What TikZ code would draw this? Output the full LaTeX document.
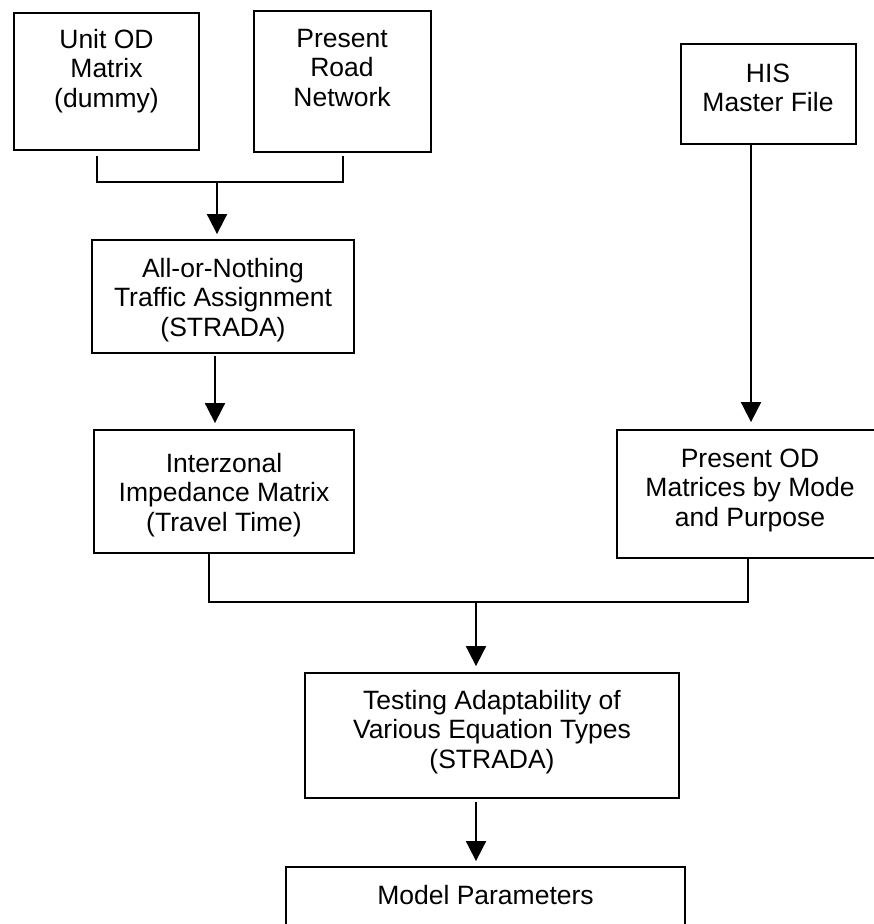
\documentclass[tikz,border=0pt]{standalone}
\usepackage{fontspec}
\setmainfont{Liberation Sans}
\usetikzlibrary{arrows.meta}

\tikzset{
  box/.style={draw, line width=1.8pt, rectangle, inner sep=0pt},
  lbl/.style={align=center, inner sep=0pt, anchor=base,
              font=\fontsize{26.5}{29.5}\selectfont},
  wire/.style={line width=1.8pt},
  arr/.style={line width=1.8pt, -{Triangle[length=20pt,width=20pt]}},
}

\begin{document}
\begin{tikzpicture}[x=1pt, y=-1pt]
  \useasboundingbox (0,0) rectangle (874,924);
  \clip (0,0) rectangle (874,924);

  % boxes (centre, size)
  \node[box, minimum width=185pt, minimum height=137pt] (b1) at (106.5,81.5) {};
  \node[box, minimum width=177pt, minimum height=141pt] (b2) at (342.5,81.5) {};
  \node[box, minimum width=175pt, minimum height=100pt] (b3) at (768.5,94) {};
  \node[box, minimum width=262pt, minimum height=113pt] (b4) at (223,296.5) {};
  \node[box, minimum width=260pt, minimum height=123pt] (b5) at (224,491.5) {};
  \node[box, minimum width=264pt, minimum height=128pt] (b6) at (749,494) {};
  \node[box, minimum width=374pt, minimum height=125pt] (b7) at (492,735.5) {};
  \node[box, minimum width=399pt, minimum height=80pt]  (b8) at (485.5,907) {};

  % box texts (placed by the baseline of the last line)
  \node[lbl] (t1) at (106.5,107) {Unit OD\\Matrix\\(dummy)};
  \node[lbl] (t2) at (342,106) {Present\\Road\\Network};
  \node[lbl] (t3) at (768,111.5) {HIS\\Master File};
  \node[lbl] (t4) at (223,336) {All-or-Nothing\\Traffic Assignment\\(STRADA)};
  \node[lbl] (t5) at (224,531) {Interzonal\\Impedance Matrix\\(Travel Time)};
  \node[lbl] (t6) at (750,526) {Present OD\\Matrices by Mode\\and Purpose};
  \node[lbl] (t7) at (492,768) {Testing Adaptability of\\Various Equation Types\\(STRADA)};
  \node[lbl] (t8) at (485.5,904) {Model Parameters};

  % junction points
  \coordinate (j1l) at (97,182);
  \coordinate (j1r) at (343,182);
  \coordinate (j1m) at (217,182);
  \coordinate (j2l) at (209,602);
  \coordinate (j2r) at (748,602);
  \coordinate (j2m) at (476,602);
  \coordinate (h1)  at (751,150);
  \coordinate (a1)  at (215,355);

  % upper merge into the assignment step
  \draw[wire] ([yshift=-5pt]b1.south -| j1l) -- (j1l) -- (j1r)
              -- ([yshift=-3pt]b2.south -| j1r);
  \draw[arr, shorten >=5pt] (j1m) -- (j1m |- b4.north);

  % assignment -> impedance matrix
  \draw[arr, shorten <=2pt, shorten >=6pt] (b4.south -| a1) -- (a1 |- b5.north);

  % master file -> OD matrices
  \draw[arr, shorten >=7pt] (b3.south -| h1) -- (h1 |- b6.north);

  % lower merge into the testing step
  \draw[wire] (b5.south -| j2l) -- (j2l) -- (j2r) -- (b6.south -| j2r);
  \draw[arr, shorten >=6pt] (j2m) -- (j2m |- b7.north);

  % testing -> model parameters
  \draw[arr, shorten <=3pt, shorten >=5pt] (b7.south -| j2m) -- (j2m |- b8.north);
\end{tikzpicture}
\end{document}
